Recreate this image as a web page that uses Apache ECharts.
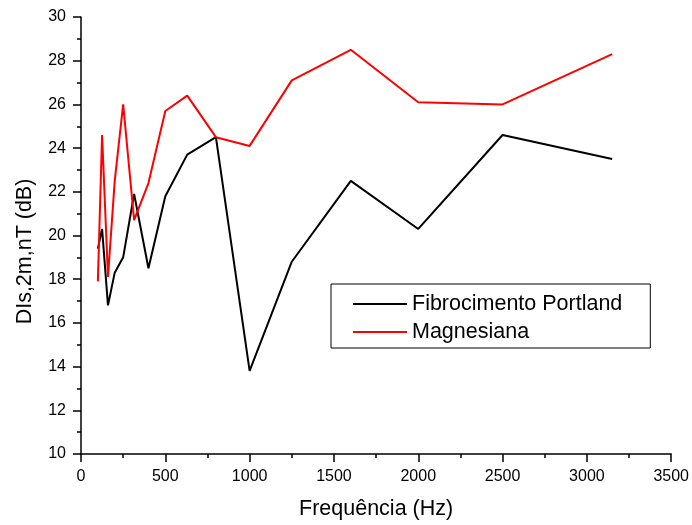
<!DOCTYPE html>
<html>
<head>
<meta charset="utf-8">
<script src="https://cdn.jsdelivr.net/npm/echarts@6/dist/echarts.min.js"></script>
<style>
html,body{margin:0;padding:0;background:#fff;}
#c{width:692px;height:525px;}
</style>
</head>
<body>
<div id="c"></div>
<script>
var freqs = [100,125,160,200,250,315,400,500,630,800,1000,1250,1600,2000,2500,3150];
var fibrocimento = [19.4,20.3,16.8,18.3,19.0,21.9,18.5,21.8,23.7,24.5,13.8,18.8,22.5,20.3,24.6,23.5];
var magnesiana = [17.9,24.6,18.1,22.5,26.0,20.7,22.4,25.7,26.4,24.5,24.1,27.1,28.5,26.1,26.0,28.3];
var seriesNames = ['Fibrocimento Portland','Magnesiana'];

function pairs(xs, ys){ return xs.map(function(x,i){return [x, ys[i]];}); }

var font = 'Liberation Sans, Arial, sans-serif';
var chart = echarts.init(document.getElementById('c'));
chart.setOption({
  animation:false,
  backgroundColor:'#fff',
  grid:{left:81,right:20,top:17,bottom:71,containLabel:false},
  legend:{
    orient:'vertical', left:331, top:284,
    padding:[9,28,5,22],
    borderColor:'#000', borderWidth:1,
    itemWidth:54, itemHeight:2, itemGap:6,
    icon:'rect',
    textStyle:{fontFamily:font,fontSize:21.5,color:'#000',lineHeight:20},
    data:seriesNames
  },
  xAxis:{
    type:'value', min:0, max:3500, interval:500,
    name:'Frequência (Hz)', nameLocation:'middle', nameGap:44,
    nameTextStyle:{fontFamily:font,fontSize:21.5,color:'#000'},
    axisLine:{show:true,lineStyle:{color:'#000',width:1.5}},
    axisTick:{show:true,length:8,inside:false,lineStyle:{color:'#000',width:1.5}},
    minorTick:{show:true,splitNumber:2,length:4,lineStyle:{color:'#000',width:1.5}},
    axisLabel:{fontFamily:font,fontSize:16,color:'#000',margin:15,formatter:function(v){return String(v);}},
    splitLine:{show:false}
  },
  yAxis:{
    type:'value', min:10, max:30, interval:2,
    name:'DIs,2m,nT (dB)', nameLocation:'middle', nameGap:45,
    nameTextStyle:{fontFamily:font,fontSize:21.5,color:'#000',padding:[0,32,0,0]},
    axisLine:{show:true,lineStyle:{color:'#000',width:1.5}},
    axisTick:{show:true,length:8,inside:false,lineStyle:{color:'#000',width:1.5}},
    minorTick:{show:true,splitNumber:2,length:4,lineStyle:{color:'#000',width:1.5}},
    axisLabel:{fontFamily:font,fontSize:16,color:'#000',margin:15,formatter:function(v){return String(v);}},
    splitLine:{show:false}
  },
  series:[
    {name:seriesNames[0],type:'line',data:pairs(freqs,fibrocimento),symbol:'none',
     lineStyle:{color:'#000',width:2},itemStyle:{color:'#000'}},
    {name:seriesNames[1],type:'line',data:pairs(freqs,magnesiana),symbol:'none',
     lineStyle:{color:'#f00',width:2},itemStyle:{color:'#f00'}}
  ]
});
</script>
</body>
</html>
